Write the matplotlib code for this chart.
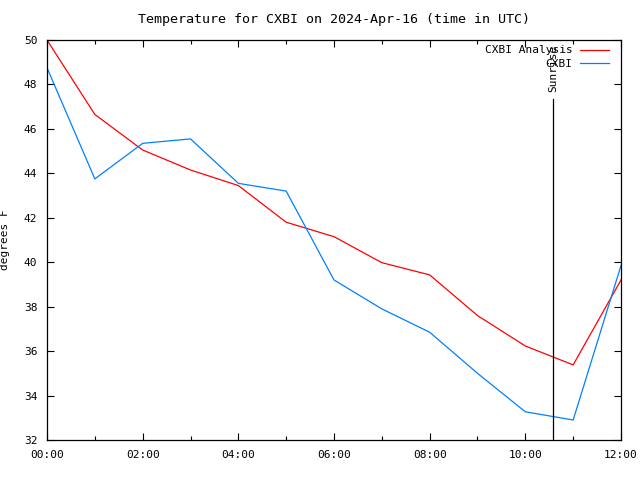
import matplotlib
matplotlib.use("Agg")
import matplotlib.pyplot as plt
from matplotlib.ticker import MultipleLocator

hours = [0, 1, 2, 3, 4, 5, 6, 7, 8, 9, 10, 11, 12]
analysis = [50.0, 46.65, 45.05, 44.15, 43.45, 41.8, 41.15, 39.98, 39.43, 37.6, 36.23, 35.38, 39.2]
observed = [48.75, 43.75, 45.35, 45.55, 43.55, 43.2, 39.2, 37.9, 36.85, 35.0, 33.27, 32.9, 39.85]
tick_hours = [0, 2, 4, 6, 8, 10, 12]
tick_labels = ["00:00", "02:00", "04:00", "06:00", "08:00", "10:00", "12:00"]
sunrise = 10 + 35 / 60.0
sunrise_top = 47.35

plt.rcParams['font.family'] = ['DejaVu Sans Mono']
plt.rcParams['font.size'] = 8

fig = plt.figure(figsize=(6.4, 4.8), dpi=100)
ax = fig.add_axes([47 / 640, 40 / 480, 574 / 640, 400 / 480])

ax.plot(hours, analysis, color='#ff0000', lw=0.9, label='CXBI Analysis')
ax.plot(hours, observed, color='#0080ff', lw=0.9, label='CXBI')

ax.plot([sunrise, sunrise], [32, sunrise_top], color='black', lw=0.9)
ax.text(sunrise, sunrise_top + 0.3, 'Sunrise', rotation=90, ha='center', va='bottom')

ax.set_xlim(0, 12)
ax.set_ylim(32, 50)
ax.set_xticks(tick_hours)
ax.set_xticklabels(tick_labels)
ax.xaxis.set_minor_locator(MultipleLocator(1))
ax.yaxis.set_major_locator(MultipleLocator(2))
ax.tick_params(which='both', direction='in', top=True, right=True, width=0.8)
ax.tick_params(which='major', length=5, pad=7)
ax.tick_params(which='minor', length=3)
for s in ax.spines.values():
    s.set_linewidth(0.9)

ax.set_ylabel('degrees F', labelpad=10)
ax.set_title('Temperature for CXBI on 2024-Apr-16 (time in UTC)', pad=12)

ax.legend(loc='upper right', bbox_to_anchor=(0.988, 0.999), frameon=False,
          markerfirst=False, handlelength=2.6, labelspacing=0.35,
          borderaxespad=0.15, borderpad=0.3, handletextpad=0.7)

fig.savefig('out.png', dpi=100)
